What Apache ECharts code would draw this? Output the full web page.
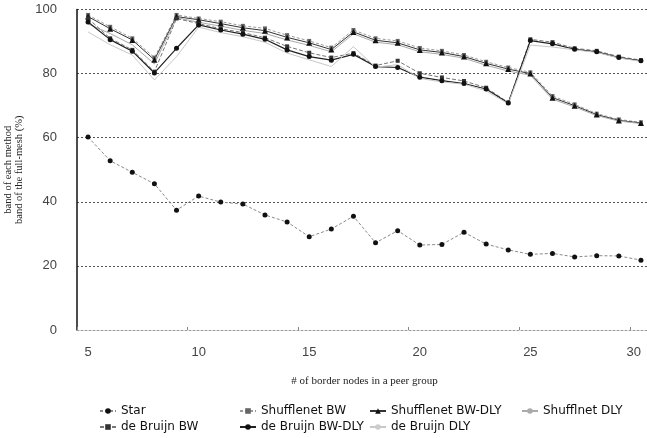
<!DOCTYPE html>
<html>
<head>
<meta charset="utf-8">
<script src="https://cdn.jsdelivr.net/npm/echarts@6/dist/echarts.min.js"></script>
<style>
html,body{margin:0;padding:0;background:#fff;}
#chart{width:647px;height:438px;}
</style>
</head>
<body>
<div id="chart"></div>
<script>
const categories = ['5','6','7','8','9','10','11','12','13','14','15','16','17','18','19','20','21','22','23','24','25','26','27','28','29','30'];
const yTicks = [0, 20, 40, 60, 80, 100];

const star          = [60.2,52.8,49.2,45.6,37.4,41.8,39.9,39.3,35.9,33.7,29.1,31.5,35.5,27.2,31.0,26.5,26.7,30.5,26.8,25.0,23.6,23.9,22.8,23.2,23.1,21.8];
const shuffleBW     = [98.3,94.6,91.0,85.0,98.3,97.2,96.2,94.9,94.1,92.0,90.2,88.1,93.6,91.0,90.2,88.0,87.1,85.8,83.7,81.9,80.4,73.0,70.4,67.5,65.7,64.8];
const shuffleBWDLY  = [97.8,94.0,90.5,84.3,97.8,96.8,95.6,94.3,93.4,91.3,89.6,87.5,93.0,90.4,89.6,87.4,86.6,85.3,83.2,81.4,80.0,72.5,70.0,67.2,65.4,64.6];
const shuffleDLY    = [95.5,92.5,89.0,83.0,97.5,96.0,94.8,93.5,92.5,90.5,88.8,86.8,92.4,89.8,89.0,86.8,86.0,84.8,82.6,80.8,79.5,72.0,69.6,66.9,65.2,64.4];
const deBruijnBW    = [97.2,91.0,87.4,80.6,97.2,95.6,94.0,92.8,91.2,88.5,86.5,85.0,86.4,82.5,84.0,80.1,78.8,77.7,75.6,71.0,90.7,89.8,87.9,87.1,85.3,84.2];
const deBruijnBWDLY = [96.1,90.6,87.0,80.2,87.9,95.2,93.6,92.3,90.7,87.4,85.3,84.2,86.0,82.2,81.9,78.9,77.8,76.9,75.2,70.8,90.3,89.3,87.6,86.8,85.0,84.0];
const deBruijnDLY   = [93.0,89.0,85.8,78.0,85.3,94.5,92.8,91.5,89.8,86.4,84.3,82.2,88.4,82.0,82.8,78.5,77.4,76.7,74.6,70.6,88.9,88.3,87.4,86.6,84.9,83.8];

const names = ['Star','Shufflenet BW','Shufflenet BW-DLY','Shufflnet DLY','de Bruijn BW','de Bruijn BW-DLY','de Bruijn DLY'];

function mk(name, data, lineColor, lineType, lineWidth, symbol, symColor, symSize) {
  return {
    name: name, type: 'line', data: data,
    symbol: symbol, symbolSize: symSize, showSymbol: symbol !== 'none',
    lineStyle: {color: lineColor, type: lineType, width: lineWidth},
    itemStyle: {color: symColor, borderWidth: 0},
    emphasis: {disabled: true}
  };
}

const series = [
  mk(names[0], star, '#8a8a8a', [3,2], 1, 'circle', '#111', 5),
  mk(names[1], shuffleBW, '#9a9a9a', [3,2], 1, 'rect', '#666', 4),
  mk(names[2], shuffleBWDLY, '#333', 'solid', 1, 'triangle', '#111', 6),
  mk(names[3], shuffleDLY, '#aaaaaa', 'solid', 1, 'none', '#aaa', 0),
  mk(names[4], deBruijnBW, '#777', [4,2], 1, 'rect', '#333', 4),
  mk(names[5], deBruijnBWDLY, '#222', 'solid', 1.2, 'circle', '#111', 5),
  mk(names[6], deBruijnDLY, '#c8c8c8', 'solid', 1, 'none', '#ccc', 0)
];

const legendPos = [
  [94, 400], [234, 400], [364, 400], [516, 400],
  [94, 416], [234, 416], [364, 416]
];
const legends = names.map((n, i) => ({
  data: [n], left: legendPos[i][0], top: legendPos[i][1],
  itemWidth: 16, itemHeight: 7, itemGap: 4,
  textStyle: {fontFamily: 'DejaVu Sans', fontSize: 12, color: '#111'},
  selectedMode: false
}));

const chart = echarts.init(document.getElementById('chart'), null, {renderer: 'canvas'});
chart.setOption({
  backgroundColor: '#fff',
  animation: false,
  legend: legends,
  grid: {left: 77, top: 9.5, width: 575, height: 320.5, containLabel: false, outerBoundsMode: 'none'},
  xAxis: {
    type: 'category', data: categories, boundaryGap: true,
    name: '# of border nodes in a peer group', nameLocation: 'middle', nameGap: 46,
    nameTextStyle: {fontFamily: 'Liberation Serif', fontSize: 11, color: '#222'},
    axisLine: {lineStyle: {color: '#999', type: [2,2], width: 1}},
    axisTick: {show: true, inside: true, length: 3, lineStyle: {color: '#888'}},
    axisLabel: {
      interval: function (idx, val) { return Number(val) % 5 === 0; },
      fontFamily: 'Liberation Sans', fontSize: 13, color: '#444', margin: 16,
      alignMaxLabel: 'right'
    },
    splitLine: {show: false}
  },
  yAxis: {
    type: 'value', min: 0, max: 100, interval: 20,
    name: 'band of each method\nband of the full-mesh (%)', nameLocation: 'middle', nameGap: 43, nameRotate: 90,
    nameTextStyle: {fontFamily: 'Liberation Serif', fontSize: 10.5, color: '#222', lineHeight: 11},
    axisLine: {show: true, lineStyle: {color: '#111', width: 1.5}},
    axisTick: {show: false},
    axisLabel: {
      formatter: function (v) { return yTicks.indexOf(v) >= 0 ? String(v) : ''; },
      fontFamily: 'Liberation Sans', fontSize: 13, color: '#444', margin: 20
    },
    splitLine: {show: true, lineStyle: {color: '#555', type: [2,2], width: 1}}
  },
  series: series
});
</script>
</body>
</html>
